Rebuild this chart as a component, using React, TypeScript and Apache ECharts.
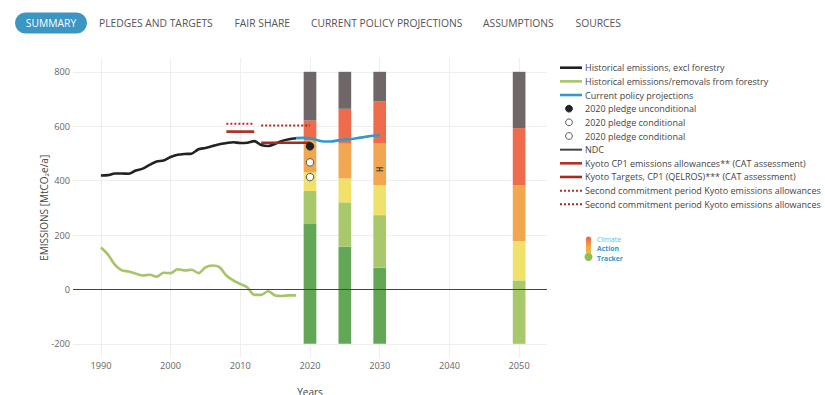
import React, { useEffect, useRef } from "react";
import * as echarts from "echarts";

// ---------- data ----------
const navTabs = ["SUMMARY", "PLEDGES AND TARGETS", "FAIR SHARE", "CURRENT POLICY PROJECTIONS", "ASSUMPTIONS", "SOURCES"];

const histYears = [1990, 1991, 1992, 1993, 1994, 1995, 1996, 1997, 1998, 1999, 2000, 2001, 2002, 2003, 2004, 2005, 2006, 2007, 2008, 2009, 2010, 2011, 2012, 2013, 2014, 2015, 2016, 2017, 2018];
const histEmissions = [419, 420, 426, 426, 425, 437, 444, 458, 470, 474, 487, 495, 498, 499, 515, 520, 527, 534, 538, 541, 538, 539, 545, 531, 527, 535, 546, 552, 556];
const forestry = [154, 129, 91, 70, 66, 58, 51, 54, 47, 61, 60, 74, 70, 72, 60, 81, 88, 82, 51, 33, 20, 8, -20, -20, -7, -22, -24, -22, -22];

const projYears = [2018, 2019, 2020, 2021, 2022, 2023, 2024, 2025, 2026, 2027, 2028, 2029, 2030];
const projValues = [556, 557, 555, 549, 544, 544, 548, 551, 553, 557, 561, 565, 567];

const pledgeYear = 2020;
const pledgeUnconditional = [526];
const pledgeConditional = [467, 413];

const ndcYear = 2030;
const ndcLow = 436;
const ndcHigh = 447;

const kyotoCP1Years = [2008, 2012];
const kyotoCP1Value = 580;
const kyotoTargetYears = [2013, 2020];
const kyotoTargetValue = 539;
const cp2FirstYears = [2008, 2012];
const cp2FirstValue = 609;
const cp2SecondYears = [2013, 2020];
const cp2SecondValue = 603;

const barYears = [2020, 2025, 2030, 2050];
const rangeBottom = [-200, -200, -200, -200];
const roleModelTop = [240, 157, 80, -200];
const parisTop = [362, 320, 273, 33];
const twoDegreeTop = [431, 408, 383, 178];
const insufficientTop = [549, 536, 536, 382];
const highlyInsufficientTop = [621, 664, 691, 593];
const criticallyInsufficientTop = [800, 800, 800, 800];
const rangeNames = ["Role model", "1.5°C Paris Agreement compatible", "2°C compatible", "Insufficient", "Highly insufficient", "Critically insufficient"];
const rangeColors = ["#62a656", "#a9c76b", "#f0e16b", "#f2a64f", "#ee6b4d", "#6f6668"];

const legendLabels = [
  "Historical emissions, excl forestry",
  "Historical emissions/removals from forestry",
  "Current policy projections",
  "2020 pledge unconditional",
  "2020 pledge conditional",
  "2020 pledge conditional",
  "NDC",
  "Kyoto CP1 emissions allowances** (CAT assessment)",
  "Kyoto Targets, CP1 (QELROS)*** (CAT assessment)",
  "Second commitment period Kyoto emissions allowances",
  "Second commitment period Kyoto emissions allowances",
];
const legendKinds = ["line", "line", "line", "dot", "ring", "ring", "line", "line", "line", "dotted", "dotted"];
const legendColors = ["#222222", "#a6c468", "#3399cc", "#222222", "#555555", "#555555", "#444444", "#b03329", "#a52a22", "#b03329", "#a52a22"];

const logoWords = ["Climate", "Action", "Tracker"];

const FONT = "'Open Sans', 'Noto Sans', sans-serif";

export default function App() {
  const ref = useRef<HTMLDivElement>(null);

  useEffect(() => {
    if (!ref.current) return;
    const chart = echarts.init(ref.current, undefined, { renderer: "svg" });

    const levels = [rangeBottom, roleModelTop, parisTop, twoDegreeTop, insufficientTop, highlyInsufficientTop, criticallyInsufficientTop];
    const barSeries = rangeNames.map((name, i) => ({
      name,
      type: "custom",
      z: 2,
      data: barYears.map((y, j) => [y, levels[i][j], levels[i + 1][j]]),
      encode: { x: 0, y: [1, 2] },
      renderItem: (params: any, api: any) => {
        const x = api.value(0);
        const lo = api.value(1);
        const hi = api.value(2);
        if (hi <= lo) return null;
        const pHi = api.coord([x, hi]);
        const pLo = api.coord([x, lo]);
        const w = api.size([1.82, 0])[0];
        return {
          type: "rect",
          shape: { x: pHi[0] - w / 2, y: pHi[1], width: w, height: pLo[1] - pHi[1] },
          style: { fill: rangeColors[i] },
        };
      },
    }));

    const lineSeries = (name: string, xs: number[], ys: number[], color: string, width: number, z: number, smooth: number | boolean, type: any = "solid") => ({
      name,
      type: "line",
      z,
      data: xs.map((x, k) => [x, ys[k]]),
      symbol: "none",
      smooth,
      lineStyle: { color, width, type },
    });

    // legend as graphics
    const legendGraphics: any[] = [];
    const lx = 560;
    const ly0 = 67.7;
    const lstep = 13.66;
    legendLabels.forEach((label, i) => {
      const y = ly0 + i * lstep;
      const kind = legendKinds[i];
      const color = legendColors[i];
      if (kind === "line") {
        legendGraphics.push({ type: "line", shape: { x1: lx, y1: y, x2: lx + 22, y2: y }, style: { stroke: color, lineWidth: i === 6 ? 2 : 2.6 } });
      } else if (kind === "dotted") {
        legendGraphics.push({ type: "line", shape: { x1: lx, y1: y, x2: lx + 22, y2: y }, style: { stroke: color, lineWidth: 2, lineDash: [2, 2] } });
      } else if (kind === "dot") {
        legendGraphics.push({ type: "circle", shape: { cx: lx + 9, cy: y, r: 3.4 }, style: { fill: color, stroke: color, lineWidth: 1 } });
      } else {
        legendGraphics.push({ type: "circle", shape: { cx: lx + 9, cy: y, r: 3.4 }, style: { fill: "#ffffff", stroke: color, lineWidth: 1 } });
      }
      legendGraphics.push({
        type: "text",
        style: { text: label, x: lx + 25, y, fill: "#444", fontSize: 9, fontFamily: FONT, align: "left", textAlign: "left", verticalAlign: "middle", textVerticalAlign: "middle" },
      });
    });

    // nav bar
    const navX = [51, 99, 234.5, 311, 483, 575.5];
    const navGraphics: any[] = [
      { type: "rect", shape: { x: 15, y: 12.5, width: 72, height: 21, r: 10.5 }, style: { fill: "#3b96c3" } },
    ];
    navTabs.forEach((t, i) => {
      navGraphics.push({
        type: "text",
        style: {
          text: t, x: navX[i], y: 23, fill: i === 0 ? "#ffffff" : "#555555", fontSize: 10.3, fontFamily: FONT,
          align: i === 0 ? "center" : "left", textAlign: i === 0 ? "center" : "left", verticalAlign: "middle", textVerticalAlign: "middle",
        },
      });
    });

    // logo
    const logoGraphics: any[] = [
      {
        type: "rect",
        shape: { x: 586, y: 236.5, width: 5, height: 20, r: 2.5 },
        style: {
          fill: new echarts.graphic.LinearGradient(0, 0, 0, 1, [
            { offset: 0, color: "#e95f4b" },
            { offset: 0.5, color: "#f3a640" },
            { offset: 1, color: "#c9d25a" },
          ]),
        },
      },
      { type: "circle", shape: { cx: 588.5, cy: 257, r: 4 }, style: { fill: "#8cc152" } },
    ];
    logoWords.forEach((w, i) => {
      logoGraphics.push({
        type: "text",
        style: {
          text: w, x: 597, y: 239.5 + i * 9.3, fill: i === 0 ? "#6ab7de" : "#2e9ad1", fontSize: 6.8,
          fontWeight: i === 0 ? "normal" : "bold", fontFamily: FONT,
          align: "left", textAlign: "left", verticalAlign: "middle", textVerticalAlign: "middle",
        },
      });
    });

    const option: any = {
      animation: false,
      backgroundColor: "#ffffff",
      textStyle: { fontFamily: FONT },
      grid: { left: 73, right: 278, top: 58.2, bottom: 37.6, containLabel: false, outerBoundsMode: "none" },
      xAxis: {
        type: "value",
        min: 1986,
        max: 2054,
        splitNumber: 7,
        name: "Years",
        nameLocation: "middle",
        nameGap: 30,
        nameMoveOverlap: false,
        nameTextStyle: { color: "#444", fontSize: 10, fontFamily: FONT },
        axisLine: { show: false },
        axisTick: { show: false },
        axisLabel: { color: "#666", fontSize: 9.2, fontFamily: FONT, margin: 4, showMinLabel: false, showMaxLabel: false, formatter: (v: number) => String(v) },
        splitLine: { show: true, showMinLine: false, showMaxLine: false, lineStyle: { color: "#eeeeee", width: 1 } },
      },
      yAxis: {
        type: "value",
        min: -250,
        max: 850,
        splitNumber: 5,
        name: "EMISSIONS [MtCO₂e/a]",
        nameLocation: "middle",
        nameGap: 24,
        nameMoveOverlap: false,
        nameTextStyle: { color: "#444", fontSize: 10, fontFamily: FONT },
        axisLine: { show: false },
        axisTick: { show: false },
        axisLabel: { color: "#666", fontSize: 9.2, fontFamily: FONT, margin: 3, showMinLabel: false, showMaxLabel: false, formatter: (v: number) => String(v) },
        splitLine: { show: true, showMinLine: false, showMaxLine: false, lineStyle: { color: "#eeeeee", width: 1 } },
      },
      series: [
        {
          name: "zero",
          type: "line",
          z: 1,
          data: [],
          silent: true,
          markLine: {
            silent: true,
            symbol: "none",
            label: { show: false },
            lineStyle: { color: "#444", width: 1, type: "solid" },
            data: [{ yAxis: 0 }],
          },
        },
        ...barSeries,
        lineSeries("Historical emissions, excl forestry", histYears, histEmissions, "#222222", 2.6, 3, 0.3),
        lineSeries("Historical emissions/removals from forestry", histYears, forestry, "#a6c468", 2.6, 3, 0.3),
        lineSeries("Current policy projections", projYears, projValues, "#3399cc", 2.6, 4, 0.4),
        lineSeries("Kyoto CP1 emissions allowances** (CAT assessment)", kyotoCP1Years, kyotoCP1Years.map(() => kyotoCP1Value), "#b03329", 2.6, 3, false),
        lineSeries("Kyoto Targets, CP1 (QELROS)*** (CAT assessment)", kyotoTargetYears, kyotoTargetYears.map(() => kyotoTargetValue), "#a52a22", 2.6, 3, false),
        lineSeries("Second commitment period Kyoto emissions allowances", cp2FirstYears, cp2FirstYears.map(() => cp2FirstValue), "#b03329", 2, 3, false, [2, 2]),
        lineSeries("Second commitment period Kyoto emissions allowances ", cp2SecondYears, cp2SecondYears.map(() => cp2SecondValue), "#a52a22", 2, 3, false, [2, 2]),
        {
          name: "NDC",
          type: "custom",
          z: 5,
          data: [[ndcYear, ndcLow, ndcHigh]],
          encode: { x: 0, y: [1, 2] },
          renderItem: (params: any, api: any) => {
            const x = api.value(0);
            const pLo = api.coord([x, api.value(1)]);
            const pHi = api.coord([x, api.value(2)]);
            const hw = 3.5;
            const st = { stroke: "#333", lineWidth: 1 };
            return {
              type: "group",
              children: [
                { type: "line", shape: { x1: pLo[0], y1: pLo[1], x2: pHi[0], y2: pHi[1] }, style: st },
                { type: "line", shape: { x1: pLo[0] - hw, y1: pLo[1], x2: pLo[0] + hw, y2: pLo[1] }, style: st },
                { type: "line", shape: { x1: pHi[0] - hw, y1: pHi[1], x2: pHi[0] + hw, y2: pHi[1] }, style: st },
              ],
            };
          },
        },
        {
          name: "2020 pledge unconditional",
          type: "scatter",
          z: 6,
          symbol: "circle",
          symbolSize: 7.5,
          data: pledgeUnconditional.map((v) => [pledgeYear, v]),
          itemStyle: { color: "#222", borderColor: "#222", borderWidth: 1, opacity: 1 },
        },
        {
          name: "2020 pledge conditional",
          type: "scatter",
          z: 6,
          symbol: "circle",
          symbolSize: 7.5,
          data: pledgeConditional.map((v) => [pledgeYear, v]),
          itemStyle: { color: "#ffffff", borderColor: "#555", borderWidth: 1, opacity: 1 },
        },
      ],
      graphic: [...navGraphics, ...legendGraphics, ...logoGraphics],
    };

    chart.setOption(option);
    return () => chart.dispose();
  }, []);

  return <div ref={ref} style={{ position: "fixed", left: 0, top: 0, width: 825, height: 395, background: "#fff" }} />;
}
